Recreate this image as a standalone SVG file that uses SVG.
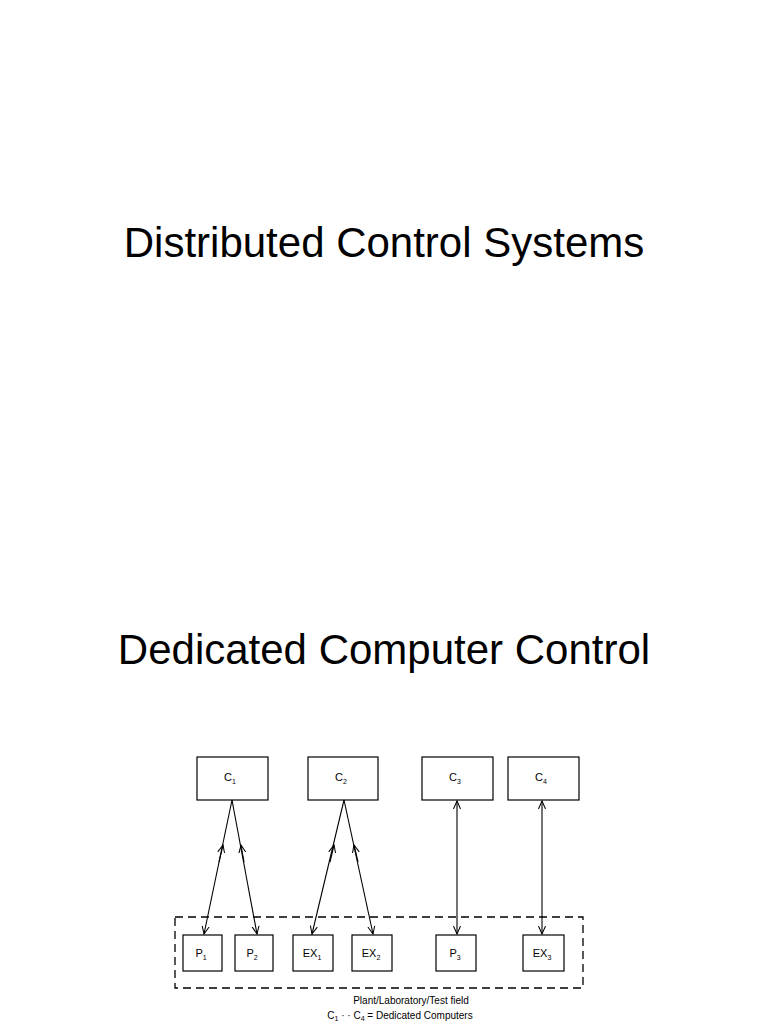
<svg xmlns="http://www.w3.org/2000/svg" width="768" height="1024" viewBox="0 0 768 1024">
<style>
.t{font-family:"Liberation Sans",Arial,sans-serif;fill:#000}
.h{font-size:42px;text-anchor:middle}
.b{fill:#fff;stroke:#000;stroke-width:1.2}
.l{font-size:11px;text-anchor:middle}
.s{font-size:7px}
.c{stroke:#000;stroke-width:1.1;fill:none}
</style>
<defs>
<marker id="a" viewBox="0 0 10 10" refX="9" refY="5" markerWidth="8" markerHeight="8" orient="auto-start-reverse"><path d="M0,1 L9,5 L0,9" fill="none" stroke="#000" stroke-width="1.2"/></marker>
</defs>
<rect width="768" height="1024" fill="#fff"/>
<text class="t h" x="384" y="257">Distributed Control Systems</text>
<text class="t h" x="384" y="664">Dedicated Computer Control</text>
<rect x="175" y="917" width="408" height="71" fill="none" stroke="#000" stroke-width="1.3" stroke-dasharray="8,5"/>
<g id="connectors">
<path class="c" d="M232,800 L204,934" marker-end="url(#a)"/>
<path class="c" d="M232,800 L257,934" marker-end="url(#a)"/>
<path class="c" d="M223,845 L219,862" marker-start="url(#a)"/>
<path class="c" d="M241,845 L244,862" marker-start="url(#a)"/>
<path class="c" d="M344,800 L312,934" marker-end="url(#a)"/>
<path class="c" d="M344,800 L373,934" marker-end="url(#a)"/>
<path class="c" d="M334,845 L330,862" marker-start="url(#a)"/>
<path class="c" d="M354,845 L358,862" marker-start="url(#a)"/>
<path class="c" d="M457,801 L457,934" marker-start="url(#a)" marker-end="url(#a)"/>
<path class="c" d="M542,801 L542,934" marker-start="url(#a)" marker-end="url(#a)"/>
</g>
<g id="C1"><rect class="b" x="197" y="757" width="71" height="43"/><text class="t l" x="230" y="781">C<tspan class="s" dy="3">1</tspan></text></g>
<g id="C2"><rect class="b" x="308" y="757" width="70" height="43"/><text class="t l" x="341" y="781">C<tspan class="s" dy="3">2</tspan></text></g>
<g id="C3"><rect class="b" x="422" y="757" width="71" height="43"/><text class="t l" x="455" y="781">C<tspan class="s" dy="3">3</tspan></text></g>
<g id="C4"><rect class="b" x="508" y="757" width="71" height="43"/><text class="t l" x="541" y="781">C<tspan class="s" dy="3">4</tspan></text></g>
<g id="P1"><rect class="b" x="183" y="935" width="39" height="36"/><text class="t l" x="201" y="957">P<tspan class="s" dy="3">1</tspan></text></g>
<g id="P2"><rect class="b" x="235" y="935" width="38" height="36"/><text class="t l" x="252" y="957">P<tspan class="s" dy="3">2</tspan></text></g>
<g id="EX1"><rect class="b" x="293" y="935" width="40" height="36"/><text class="t l" x="312" y="957">EX<tspan class="s" dy="3">1</tspan></text></g>
<g id="EX2"><rect class="b" x="352" y="935" width="40" height="36"/><text class="t l" x="371" y="957">EX<tspan class="s" dy="3">2</tspan></text></g>
<g id="P3"><rect class="b" x="436" y="935" width="40" height="36"/><text class="t l" x="455" y="957">P<tspan class="s" dy="3">3</tspan></text></g>
<g id="EX3"><rect class="b" x="523" y="935" width="41" height="36"/><text class="t l" x="542" y="957">EX<tspan class="s" dy="3">3</tspan></text></g>
<text class="t l" x="411" y="1004" style="font-size:10px">Plant/Laboratory/Test field</text>
<text class="t l" x="400" y="1019" style="font-size:10px">C<tspan class="s" dy="2">1</tspan><tspan dy="-2"> · · C</tspan><tspan class="s" dy="2">4</tspan><tspan dy="-2"> = Dedicated Computers</tspan></text>
</svg>
